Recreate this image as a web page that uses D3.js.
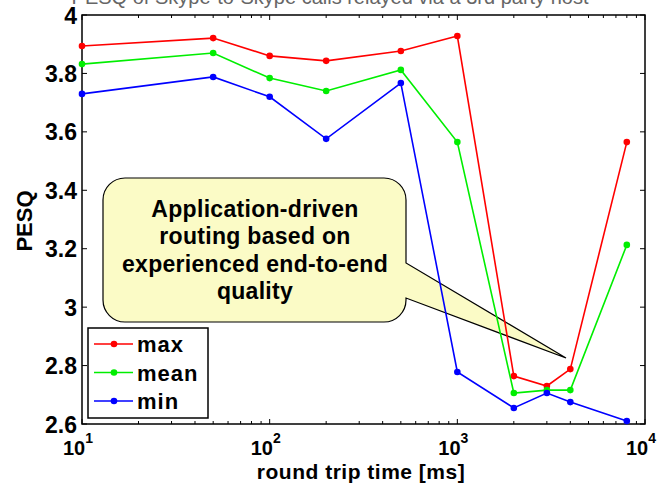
<!DOCTYPE html>
<html><head><meta charset="utf-8">
<script src="https://cdn.jsdelivr.net/npm/d3@7"></script>
<style>
html,body{margin:0;padding:0;background:#fff;}
svg{display:block;font-family:"Liberation Sans",Arial,sans-serif;}
</style></head>
<body><svg id="c" width="661" height="489"></svg>
<script>
const rtt = [10, 50, 100, 200, 500, 1000, 2000, 3000, 4000, 8000];
const maxVals  = [3.894, 3.921, 3.860, 3.843, 3.877, 3.928, 2.764, 2.730, 2.788, 3.565];
const meanVals = [3.832, 3.870, 3.784, 3.740, 3.812, 3.565, 2.706, 2.716, 2.716, 3.213];
const minVals  = [3.730, 3.788, 3.720, 3.576, 3.767, 2.778, 2.655, 2.706, 2.675, 2.610];
const seriesNames = ["max", "mean", "min"];
const seriesColors = ["#ff0000", "#00ee00", "#0000ff"];
const yTicks = [2.6, 2.8, 3, 3.2, 3.4, 3.6, 3.8, 4];
const xTickExps = [1, 2, 3, 4];
const calloutLines = ["Application-driven", "routing based on", "experienced end-to-end", "quality"];
const titleText = "PESQ of Skype-to-Skype calls relayed via a 3rd party host";

const svg = d3.select("#c");
const L = 82, R = 645, T = 15, B = 424;
const x = d3.scaleLog().domain([10, 10000]).range([L, R]);
const y = d3.scaleLinear().domain([2.6, 4]).range([B, T]);

// cut-off title (partly outside the page, as in the reference)
svg.append("text").attr("x", 330).attr("y", 4).attr("text-anchor", "middle")
  .attr("font-size", 20).attr("fill", "#666").text(titleText);

// callout (behind data)
const bx0 = 103, bx1 = 406, by0 = 178, by1 = 322, rr = 22;
const tip = [566, 358];
const p = d3.path();
p.moveTo(bx0 + rr, by0);
p.lineTo(bx1 - rr, by0);
p.arcTo(bx1, by0, bx1, by0 + rr, rr);
p.lineTo(bx1, 263);
p.lineTo(tip[0], tip[1]);
p.lineTo(bx1, 298);
p.lineTo(bx1, by1 - rr);
p.arcTo(bx1, by1, bx1 - rr, by1, rr);
p.lineTo(bx0 + rr, by1);
p.arcTo(bx0, by1, bx0, by1 - rr, rr);
p.lineTo(bx0, by0 + rr);
p.arcTo(bx0, by0, bx0 + rr, by0, rr);
p.closePath();
svg.append("path").attr("d", p.toString()).attr("fill", "#fbfbc6")
  .attr("stroke", "#000").attr("stroke-width", 1.2);
svg.append("g").selectAll("text").data(calloutLines).join("text")
  .attr("x", 255).attr("y", (d, i) => 217 + i * 27.3)
  .attr("text-anchor", "middle").attr("font-size", 23).attr("font-weight", "bold")
  .attr("letter-spacing", 0.3)
  .text(d => d);

// axes box
const g = svg.append("g");
const tickLen = 5;
g.selectAll(".yt").data(yTicks).join("path")
  .attr("d", d => `M${L},${y(d)}h${tickLen}M${R},${y(d)}h${-tickLen}`)
  .attr("stroke", "#000").attr("stroke-width", 1);
g.selectAll(".yl").data(yTicks).join("text")
  .attr("x", 77).attr("y", d => y(d) + 8.5).attr("text-anchor", "end")
  .attr("font-size", 23).attr("font-weight", "bold").text(d => d3.format("~g")(d));
const xMinor = [];
for (let e = 1; e < 4; e++) for (let k = 2; k <= 9; k++) xMinor.push(k * Math.pow(10, e));
g.selectAll(".xm").data(xMinor).join("path")
  .attr("d", d => `M${x(d)},${B}v-3M${x(d)},${T}v3`)
  .attr("stroke", "#000").attr("stroke-width", 1);
g.selectAll(".xM").data(xTickExps).join("path")
  .attr("d", d => `M${x(Math.pow(10, d))},${B}v${-tickLen}M${x(Math.pow(10, d))},${T}v${tickLen}`)
  .attr("stroke", "#000").attr("stroke-width", 1);
const xl = g.selectAll(".xl").data(xTickExps).join("text")
  .attr("x", d => x(Math.pow(10, d)) - 4).attr("y", 455).attr("text-anchor", "middle")
  .attr("font-size", 20).attr("font-weight", "bold");
xl.append("tspan").text("10");
xl.append("tspan").attr("dy", -12).attr("font-size", 14).text(d => d);
g.append("rect").attr("x", L).attr("y", T).attr("width", R - L).attr("height", B - T)
  .attr("fill", "none").attr("stroke", "#000").attr("stroke-width", 1.5);

// axis labels
svg.append("text").attr("x", 361).attr("y", 479).attr("text-anchor", "middle")
  .attr("font-size", 21).attr("font-weight", "bold").attr("letter-spacing", 0.5)
  .text("round trip time [ms]");
svg.append("text").attr("transform", "translate(32,221) rotate(-90)").attr("text-anchor", "middle")
  .attr("font-size", 22).attr("font-weight", "bold").text("PESQ");

// series
const allSeries = [maxVals, meanVals, minVals];
const line = d3.line().x((d, i) => x(rtt[i])).y(d => y(d));
allSeries.forEach((vals, si) => {
  svg.append("path").attr("d", line(vals)).attr("fill", "none")
    .attr("stroke", seriesColors[si]).attr("stroke-width", 1.6);
  svg.append("g").selectAll("circle").data(vals).join("circle")
    .attr("cx", (d, i) => x(rtt[i])).attr("cy", d => y(d)).attr("r", 3.3)
    .attr("fill", seriesColors[si]);
});

// legend
const lg = svg.append("g");
lg.append("rect").attr("x", 88).attr("y", 328).attr("width", 120).attr("height", 90)
  .attr("fill", "#fff").attr("stroke", "#000").attr("stroke-width", 1.5);
seriesNames.forEach((n, i) => {
  const yy = 344 + i * 28.5;
  lg.append("line").attr("x1", 94).attr("x2", 133).attr("y1", yy).attr("y2", yy)
    .attr("stroke", seriesColors[i]).attr("stroke-width", 1.6);
  lg.append("circle").attr("cx", 114).attr("cy", yy).attr("r", 3.3).attr("fill", seriesColors[i]);
  lg.append("text").attr("x", 137).attr("y", yy + 8).attr("font-size", 22)
    .attr("font-weight", "bold").attr("letter-spacing", 1).text(n);
});
</script></body></html>
